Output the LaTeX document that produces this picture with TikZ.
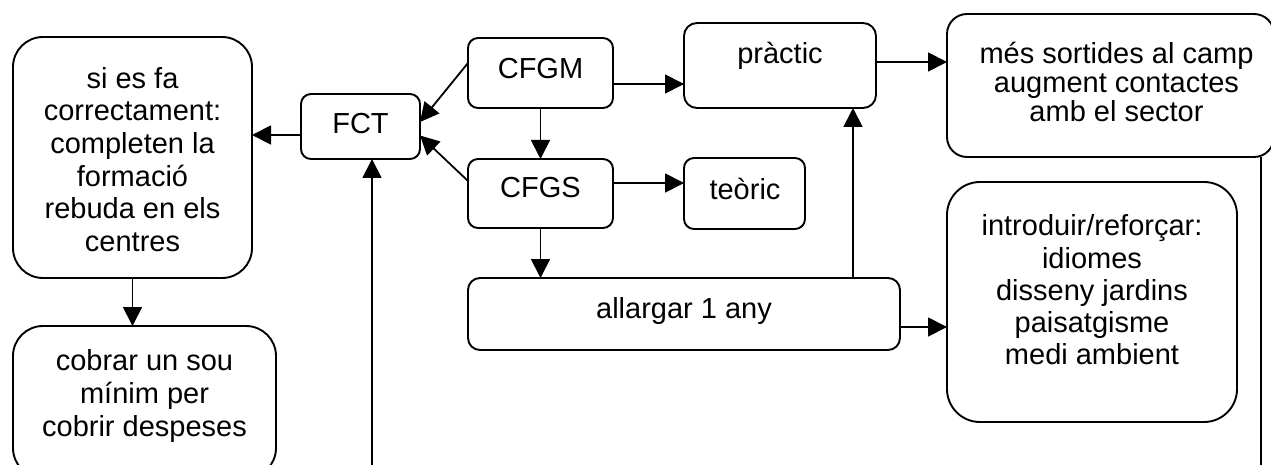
\documentclass[tikz,border=0pt]{standalone}
\usepackage{fontspec}
\setmainfont{Liberation Sans}
\usetikzlibrary{arrows.meta}
\begin{document}
\begin{tikzpicture}[x=1pt,y=-1pt,
  box/.style={draw, line width=1.9pt, inner sep=0pt, outer sep=0pt},
  txt/.style={align=center, inner sep=0pt, font=\fontsize{29}{32.6}\selectfont},
  arr/.style={line width=1.8pt, -{Triangle[length=19pt,width=19pt]}},
  ln/.style={line width=1.8pt}]
\fill[white] (0,0) rectangle (1271,465);
\useasboundingbox (0,0) rectangle (1271,465);
\clip (0,0) rectangle (1271,465);
% boxes
\node[box, rounded corners=30pt, minimum width=239pt, minimum height=241pt] (A) at (132.5,157.5) {};
\node[box, rounded corners=30pt, minimum width=263pt, minimum height=152pt] (B) at (144.5,402) {};
\node[box, rounded corners=10pt, minimum width=119pt, minimum height=65pt] (fct) at (360.5,126.5) {};
\node[box, rounded corners=10pt, minimum width=145pt, minimum height=70pt] (cfgm) at (540.5,73) {};
\node[box, rounded corners=10pt, minimum width=145pt, minimum height=69pt] (cfgs) at (540.5,193.5) {};
\node[box, rounded corners=13pt, minimum width=192pt, minimum height=85pt] (prac) at (780,65.5) {};
\node[box, rounded corners=10pt, minimum width=121pt, minimum height=71pt] (teor) at (744.5,193.5) {};
\node[box, rounded corners=12pt, minimum width=432pt, minimum height=72pt] (alla) at (684,314) {};
\node[box, rounded corners=20pt, minimum width=327pt, minimum height=143pt] (mes) at (1110.5,85.5) {};
\node[box, rounded corners=33pt, minimum width=290pt, minimum height=240pt] (intro) at (1092,302) {};
% texts
\node[txt] (At) at (132.5,159.5) {si es fa\\correctament:\\completen la\\formació\\rebuda en els\\centres};
\node[txt, font=\fontsize{29}{33}\selectfont] (Bt) at (144.5,396) {cobrar un sou\\mínim per\\cobrir despeses};
\node[txt] (fctt) at (360.5,124) {FCT};
\node[txt] (cfgmt) at (540.5,69) {CFGM};
\node[txt] (cfgst) at (540.5,188) {CFGS};
\node[txt] (pract) at (780,56) {pràctic};
\node[txt] (teort) at (745,189) {teòric};
\node[txt] (allat) at (684,311) {allargar 1 any};
\node[txt, font=\fontsize{29}{29}\selectfont] (mest) at (1116.5,82) {més sortides al camp\\augment contactes\\amb el sector};
\node[txt, font=\fontsize{29}{32.25}\selectfont] (introt) at (1092,290) {introduir/reforçar:\\idiomes\\disseny jardins\\paisatgisme\\medi ambient};
% free ends
\coordinate (bot) at (372,470);
\coordinate (rbot) at (1261,470);
% connectors
\draw[arr] (fct.west |- 0,135) -- (A.east |- 0,135);
\draw[arr] (cfgm.west |- 0,63) -- (fct.east |- 0,122);
\draw[arr] (cfgs.west |- 0,181) -- (fct.east |- 0,135.5);
\draw[arr] (cfgm.south) -- (cfgs.north);
\draw[arr] (cfgm.east |- 0,84) -- (prac.west |- 0,84);
\draw[arr] (cfgs.east |- 0,183) -- (teor.west |- 0,183);
\draw[arr] (cfgs.south) -- (cfgs.south |- alla.north);
\draw[arr] (alla.north -| 853,0) -- (prac.south -| 853,0);
\draw[arr] (alla.east |- 0,327) -- (intro.west |- 0,327);
\draw[arr] (prac.east |- 0,62) -- (mes.west |- 0,62);
\draw[arr] (A.south) -- (A.south |- B.north);
\draw[arr] (bot) -- (fct.south -| bot);
\draw[ln] (mes.south -| rbot) -- (rbot);
\end{tikzpicture}
\end{document}
